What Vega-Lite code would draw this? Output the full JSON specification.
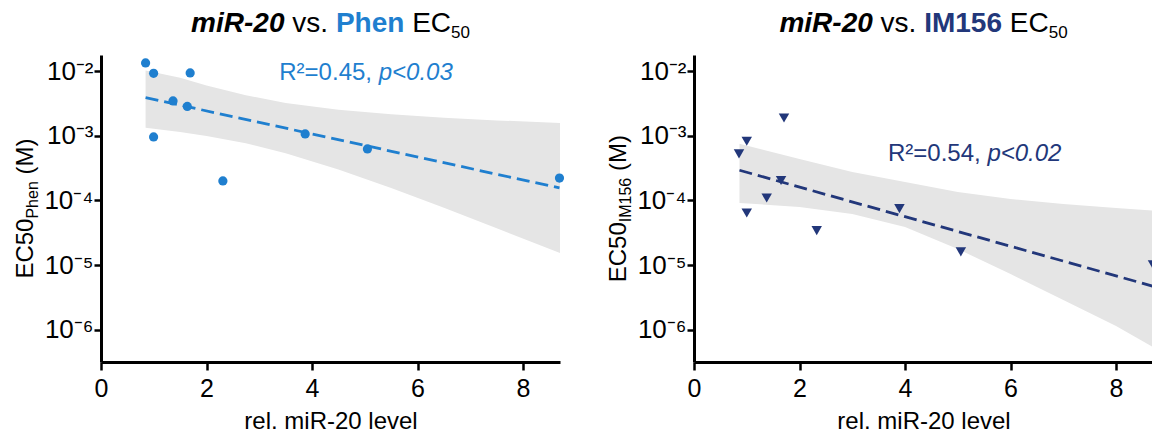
{
  "$schema": "https://vega.github.io/schema/vega-lite/v6.json",
  "background": "white",
  "padding": {"left": 14, "top": 9, "right": 0, "bottom": 0},
  "spacing": 41,
  "config": {
    "view": {"stroke": null},
    "font": "Liberation Sans",
    "axis": {"domainColor": "#000", "domainWidth": 3, "tickColor": "#000", "tickWidth": 2.5, "labelColor": "#000", "titleColor": "#000", "titleFontWeight": "normal", "labelFont": "Liberation Sans", "titleFont": "Liberation Sans", "grid": false}
  },
  "datasets": {
    "phen": [
      {"x": 0.845, "y": 0.0134}, {"x": 0.997, "y": 0.00925}, {"x": 0.997, "y": 0.00096}, {"x": 1.365, "y": 0.00346}, {"x": 1.636, "y": 0.00285},
      {"x": 1.69, "y": 0.0094}, {"x": 2.31, "y": 0.0002}, {"x": 3.87, "y": 0.00107}, {"x": 5.05, "y": 0.000625}, {"x": 8.69, "y": 0.000222}
    ],
    "phenFit": [{"x": 0.845, "y": 0.0039}, {"x": 8.69, "y": 0.000156}],
    "phenBand": [
      {"x": 0.845, "upper": 0.0102, "lower": 0.00133}, {"x": 1.5, "upper": 0.00793, "lower": 0.00114}, {"x": 2.0, "upper": 0.00598, "lower": 0.000993},
      {"x": 2.745, "upper": 0.00424, "lower": 0.000766}, {"x": 3.5, "upper": 0.00323, "lower": 0.000536}, {"x": 4.5, "upper": 0.00253, "lower": 0.000301},
      {"x": 5.5, "upper": 0.00215, "lower": 0.000155}, {"x": 6.5, "upper": 0.00191, "lower": 0.0000767}, {"x": 7.5, "upper": 0.00173, "lower": 0.0000372},
      {"x": 8.7, "upper": 0.00158, "lower": 0.0000153}
    ],
    "im": [
      {"x": 0.853, "y": 0.000525}, {"x": 1.0, "y": 0.000824}, {"x": 1.0, "y": 0.000064}, {"x": 1.378, "y": 0.000109}, {"x": 1.65, "y": 0.000203},
      {"x": 1.706, "y": 0.00189}, {"x": 2.326, "y": 0.0000341}, {"x": 3.894, "y": 0.0000746}, {"x": 5.058, "y": 0.000016}, {"x": 8.7, "y": 0.0000101}
    ],
    "imFit": [{"x": 0.862, "y": 0.000293}, {"x": 8.7, "y": 0.0000047}],
    "imBand": [
      {"x": 0.862, "upper": 0.00075, "lower": 0.0000914}, {"x": 2.0, "upper": 0.000439, "lower": 0.0000793}, {"x": 3.0, "upper": 0.000276, "lower": 0.0000618},
      {"x": 4.0, "upper": 0.000193, "lower": 0.0000389}, {"x": 5.0, "upper": 0.000135, "lower": 0.0000177}, {"x": 6.0, "upper": 0.000105, "lower": 0.00000728},
      {"x": 7.0, "upper": 0.0000883, "lower": 0.00000288}, {"x": 8.0, "upper": 0.0000766, "lower": 0.00000114}, {"x": 8.7, "upper": 0.0000695, "lower": 0.00000054}
    ]
  },
  "hconcat": [
    {
      "width": 459, "height": 307,
      "layer": [
        {"data": {"name": "phenBand"}, "mark": {"type": "area", "color": "#e5e5e5", "opacity": 1},
         "encoding": {
           "x": {"field": "x", "type": "quantitative", "scale": {"domain": [0, 8.7], "nice": false, "zero": false},
                 "axis": {"values": [0, 2, 4, 6, 8], "title": "rel. miR-20 level", "labelFlush": false, "tickSize": 8, "labelPadding": 6, "titlePadding": 8, "labelFontSize": 25, "titleFontSize": 24}},
           "y": {"field": "upper", "type": "quantitative", "scale": {"type": "log", "domain": [3.1623e-7, 0.017783], "nice": false},
                 "axis": {"values": [0.000001, 0.00001, 0.0001, 0.001, 0.01], "title": null, "tickSize": 7, "labelPadding": 1, "labelFontSize": 26, "labelFlush": false,
                          "labelExpr": "'10' + ['⁻²','⁻³','⁻⁴','⁻⁵','⁻⁶'][-round(log(datum.value)/LN10) - 2]"}},
           "y2": {"field": "lower"}
         }},
        {"data": {"name": "phenFit"}, "mark": {"type": "line", "color": "#1f7fcf", "strokeWidth": 2.8, "strokeDash": [13, 6]},
         "encoding": {
           "x": {"field": "x", "type": "quantitative", "scale": {"domain": [0, 8.7], "nice": false, "zero": false}},
           "y": {"field": "y", "type": "quantitative", "scale": {"type": "log", "domain": [3.1623e-7, 0.017783], "nice": false}}
         }},
        {"data": {"name": "phen"}, "mark": {"type": "circle", "color": "#1f7fcf", "size": 85, "opacity": 1},
         "encoding": {
           "x": {"field": "x", "type": "quantitative", "scale": {"domain": [0, 8.7], "nice": false, "zero": false}},
           "y": {"field": "y", "type": "quantitative", "scale": {"type": "log", "domain": [3.1623e-7, 0.017783], "nice": false}}
         }},
        {"data": {"values": [{"t": "R²=0.45,"}]}, "mark": {"type": "text", "align": "left", "baseline": "alphabetic", "fontSize": 24, "color": "#1f7fcf"},
         "encoding": {"x": {"datum": 3.379, "type": "quantitative", "scale": {"domain": [0, 8.7], "nice": false, "zero": false}},
                      "y": {"datum": 0.00729, "type": "quantitative", "scale": {"type": "log", "domain": [3.1623e-7, 0.017783], "nice": false}},
                      "text": {"field": "t"}}},
        {"data": {"values": [{"t": "p<0.03"}]}, "mark": {"type": "text", "align": "left", "baseline": "alphabetic", "fontSize": 24, "fontStyle": "italic", "color": "#1f7fcf"},
         "encoding": {"x": {"datum": 5.263, "type": "quantitative", "scale": {"domain": [0, 8.7], "nice": false, "zero": false}},
                      "y": {"datum": 0.00729, "type": "quantitative", "scale": {"type": "log", "domain": [3.1623e-7, 0.017783], "nice": false}},
                      "text": {"field": "t"}}},
        {"data": {"values": [{"t": "miR-20"}]}, "mark": {"type": "text", "align": "left", "baseline": "alphabetic", "fontSize": 28, "fontWeight": "bold", "fontStyle": "italic", "color": "#000"},
         "encoding": {"x": {"datum": 1.708, "type": "quantitative", "scale": {"domain": [0, 8.7], "nice": false, "zero": false}},
                      "y": {"datum": 0.04083, "type": "quantitative", "scale": {"type": "log", "domain": [3.1623e-7, 0.017783], "nice": false}},
                      "text": {"field": "t"}}},
        {"data": {"values": [{"t": "vs."}]}, "mark": {"type": "text", "align": "left", "baseline": "alphabetic", "fontSize": 28, "color": "#000"},
         "encoding": {"x": {"datum": 3.626, "type": "quantitative", "scale": {"domain": [0, 8.7], "nice": false, "zero": false}},
                      "y": {"datum": 0.04083, "type": "quantitative", "scale": {"type": "log", "domain": [3.1623e-7, 0.017783], "nice": false}},
                      "text": {"field": "t"}}},
        {"data": {"values": [{"t": "Phen"}]}, "mark": {"type": "text", "align": "left", "baseline": "alphabetic", "fontSize": 28, "fontWeight": "bold", "color": "#1f7fcf"},
         "encoding": {"x": {"datum": 4.452, "type": "quantitative", "scale": {"domain": [0, 8.7], "nice": false, "zero": false}},
                      "y": {"datum": 0.04083, "type": "quantitative", "scale": {"type": "log", "domain": [3.1623e-7, 0.017783], "nice": false}},
                      "text": {"field": "t"}}},
        {"data": {"values": [{"t": "EC"}]}, "mark": {"type": "text", "align": "left", "baseline": "alphabetic", "fontSize": 28, "color": "#000"},
         "encoding": {"x": {"datum": 5.898, "type": "quantitative", "scale": {"domain": [0, 8.7], "nice": false, "zero": false}},
                      "y": {"datum": 0.04083, "type": "quantitative", "scale": {"type": "log", "domain": [3.1623e-7, 0.017783], "nice": false}},
                      "text": {"field": "t"}}},
        {"data": {"values": [{"t": "50"}]}, "mark": {"type": "text", "align": "left", "baseline": "alphabetic", "fontSize": 17, "color": "#000"},
         "encoding": {"x": {"datum": 6.636, "type": "quantitative", "scale": {"domain": [0, 8.7], "nice": false, "zero": false}},
                      "y": {"datum": 0.03296, "type": "quantitative", "scale": {"type": "log", "domain": [3.1623e-7, 0.017783], "nice": false}},
                      "text": {"field": "t"}}},
        {"data": {"values": [{"t": "EC50"}]}, "mark": {"type": "text", "align": "left", "baseline": "alphabetic", "angle": 270, "fontSize": 24, "color": "#000"},
         "encoding": {"x": {"datum": -1.283, "type": "quantitative", "scale": {"domain": [0, 8.7], "nice": false, "zero": false}},
                      "y": {"datum": 0.00000617, "type": "quantitative", "scale": {"type": "log", "domain": [3.1623e-7, 0.017783], "nice": false}},
                      "text": {"field": "t"}}},
        {"data": {"values": [{"t": "Phen"}]}, "mark": {"type": "text", "align": "left", "baseline": "alphabetic", "angle": 270, "fontSize": 16, "color": "#000"},
         "encoding": {"x": {"datum": -1.188, "type": "quantitative", "scale": {"domain": [0, 8.7], "nice": false, "zero": false}},
                      "y": {"datum": 0.0000524, "type": "quantitative", "scale": {"type": "log", "domain": [3.1623e-7, 0.017783], "nice": false}},
                      "text": {"field": "t"}}},
        {"data": {"values": [{"t": "(M)"}]}, "mark": {"type": "text", "align": "left", "baseline": "alphabetic", "angle": 270, "fontSize": 24, "color": "#000"},
         "encoding": {"x": {"datum": -1.283, "type": "quantitative", "scale": {"domain": [0, 8.7], "nice": false, "zero": false}},
                      "y": {"datum": 0.000252, "type": "quantitative", "scale": {"type": "log", "domain": [3.1623e-7, 0.017783], "nice": false}},
                      "text": {"field": "t"}}}
      ]
    },
    {
      "width": 459, "height": 307,
      "layer": [
        {"data": {"name": "imBand"}, "mark": {"type": "area", "color": "#e5e5e5", "opacity": 1},
         "encoding": {
           "x": {"field": "x", "type": "quantitative", "scale": {"domain": [0, 8.7], "nice": false, "zero": false},
                 "axis": {"values": [0, 2, 4, 6, 8], "title": "rel. miR-20 level", "labelFlush": false, "tickSize": 8, "labelPadding": 6, "titlePadding": 8, "labelFontSize": 25, "titleFontSize": 24}},
           "y": {"field": "upper", "type": "quantitative", "scale": {"type": "log", "domain": [3.1623e-7, 0.017783], "nice": false},
                 "axis": {"values": [0.000001, 0.00001, 0.0001, 0.001, 0.01], "title": null, "tickSize": 7, "labelPadding": 1, "labelFontSize": 26, "labelFlush": false,
                          "labelExpr": "'10' + ['⁻²','⁻³','⁻⁴','⁻⁵','⁻⁶'][-round(log(datum.value)/LN10) - 2]"}},
           "y2": {"field": "lower"}
         }},
        {"data": {"name": "imFit"}, "mark": {"type": "line", "color": "#22377a", "strokeWidth": 2.8, "strokeDash": [13, 6]},
         "encoding": {
           "x": {"field": "x", "type": "quantitative", "scale": {"domain": [0, 8.7], "nice": false, "zero": false}},
           "y": {"field": "y", "type": "quantitative", "scale": {"type": "log", "domain": [3.1623e-7, 0.017783], "nice": false}}
         }},
        {"data": {"name": "im"}, "mark": {"type": "point", "shape": "triangle-down", "filled": true, "color": "#22377a", "size": 110, "opacity": 1, "clip": true},
         "encoding": {
           "x": {"field": "x", "type": "quantitative", "scale": {"domain": [0, 8.7], "nice": false, "zero": false}},
           "y": {"field": "y", "type": "quantitative", "scale": {"type": "log", "domain": [3.1623e-7, 0.017783], "nice": false}}
         }},
        {"data": {"values": [{"t": "R²=0.54,"}]}, "mark": {"type": "text", "align": "left", "baseline": "alphabetic", "fontSize": 24, "color": "#22377a"},
         "encoding": {"x": {"datum": 3.677, "type": "quantitative", "scale": {"domain": [0, 8.7], "nice": false, "zero": false}},
                      "y": {"datum": 0.000406, "type": "quantitative", "scale": {"type": "log", "domain": [3.1623e-7, 0.017783], "nice": false}},
                      "text": {"field": "t"}}},
        {"data": {"values": [{"t": "p<0.02"}]}, "mark": {"type": "text", "align": "left", "baseline": "alphabetic", "fontSize": 24, "fontStyle": "italic", "color": "#22377a"},
         "encoding": {"x": {"datum": 5.561, "type": "quantitative", "scale": {"domain": [0, 8.7], "nice": false, "zero": false}},
                      "y": {"datum": 0.000406, "type": "quantitative", "scale": {"type": "log", "domain": [3.1623e-7, 0.017783], "nice": false}},
                      "text": {"field": "t"}}},
        {"data": {"values": [{"t": "miR-20"}]}, "mark": {"type": "text", "align": "left", "baseline": "alphabetic", "fontSize": 28, "fontWeight": "bold", "fontStyle": "italic", "color": "#000"},
         "encoding": {"x": {"datum": 1.619, "type": "quantitative", "scale": {"domain": [0, 8.7], "nice": false, "zero": false}},
                      "y": {"datum": 0.04083, "type": "quantitative", "scale": {"type": "log", "domain": [3.1623e-7, 0.017783], "nice": false}},
                      "text": {"field": "t"}}},
        {"data": {"values": [{"t": "vs."}]}, "mark": {"type": "text", "align": "left", "baseline": "alphabetic", "fontSize": 28, "color": "#000"},
         "encoding": {"x": {"datum": 3.537, "type": "quantitative", "scale": {"domain": [0, 8.7], "nice": false, "zero": false}},
                      "y": {"datum": 0.04083, "type": "quantitative", "scale": {"type": "log", "domain": [3.1623e-7, 0.017783], "nice": false}},
                      "text": {"field": "t"}}},
        {"data": {"values": [{"t": "IM156"}]}, "mark": {"type": "text", "align": "left", "baseline": "alphabetic", "fontSize": 28, "fontWeight": "bold", "color": "#22377a"},
         "encoding": {"x": {"datum": 4.363, "type": "quantitative", "scale": {"domain": [0, 8.7], "nice": false, "zero": false}},
                      "y": {"datum": 0.04083, "type": "quantitative", "scale": {"type": "log", "domain": [3.1623e-7, 0.017783], "nice": false}},
                      "text": {"field": "t"}}},
        {"data": {"values": [{"t": "EC"}]}, "mark": {"type": "text", "align": "left", "baseline": "alphabetic", "fontSize": 28, "color": "#000"},
         "encoding": {"x": {"datum": 5.986, "type": "quantitative", "scale": {"domain": [0, 8.7], "nice": false, "zero": false}},
                      "y": {"datum": 0.04083, "type": "quantitative", "scale": {"type": "log", "domain": [3.1623e-7, 0.017783], "nice": false}},
                      "text": {"field": "t"}}},
        {"data": {"values": [{"t": "50"}]}, "mark": {"type": "text", "align": "left", "baseline": "alphabetic", "fontSize": 17, "color": "#000"},
         "encoding": {"x": {"datum": 6.723, "type": "quantitative", "scale": {"domain": [0, 8.7], "nice": false, "zero": false}},
                      "y": {"datum": 0.03296, "type": "quantitative", "scale": {"type": "log", "domain": [3.1623e-7, 0.017783], "nice": false}},
                      "text": {"field": "t"}}},
        {"data": {"values": [{"t": "EC50"}]}, "mark": {"type": "text", "align": "left", "baseline": "alphabetic", "angle": 270, "fontSize": 24, "color": "#000"},
         "encoding": {"x": {"datum": -1.283, "type": "quantitative", "scale": {"domain": [0, 8.7], "nice": false, "zero": false}},
                      "y": {"datum": 0.00000542, "type": "quantitative", "scale": {"type": "log", "domain": [3.1623e-7, 0.017783], "nice": false}},
                      "text": {"field": "t"}}},
        {"data": {"values": [{"t": "IM156"}]}, "mark": {"type": "text", "align": "left", "baseline": "alphabetic", "angle": 270, "fontSize": 16, "color": "#000"},
         "encoding": {"x": {"datum": -1.188, "type": "quantitative", "scale": {"domain": [0, 8.7], "nice": false, "zero": false}},
                      "y": {"datum": 0.000046, "type": "quantitative", "scale": {"type": "log", "domain": [3.1623e-7, 0.017783], "nice": false}},
                      "text": {"field": "t"}}},
        {"data": {"values": [{"t": "(M)"}]}, "mark": {"type": "text", "align": "left", "baseline": "alphabetic", "angle": 270, "fontSize": 24, "color": "#000"},
         "encoding": {"x": {"datum": -1.283, "type": "quantitative", "scale": {"domain": [0, 8.7], "nice": false, "zero": false}},
                      "y": {"datum": 0.000286, "type": "quantitative", "scale": {"type": "log", "domain": [3.1623e-7, 0.017783], "nice": false}},
                      "text": {"field": "t"}}}
      ]
    }
  ]
}
